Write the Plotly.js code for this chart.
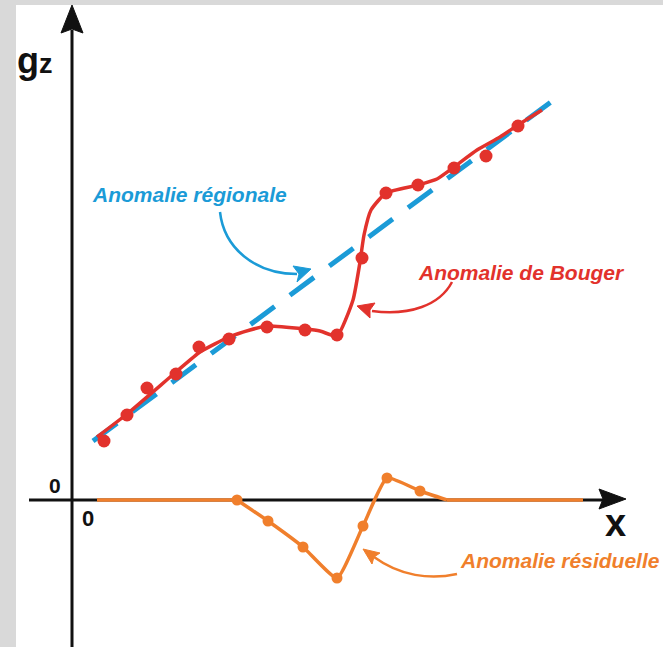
<!DOCTYPE html>
<html>
<head>
<meta charset="utf-8">
<script src="https://cdn.plot.ly/plotly-3.0.1.min.js"></script>
<style>html,body{margin:0;padding:0;background:#d9d9d9;}#chart{width:663px;height:647px;}</style>
</head>
<body>
<div id="chart"></div>
<script>
// Regional anomaly (straight trend)
const regionalX = [2.1, 48.7];
const regionalY = [5.9, 40.4];

// Bouguer anomaly: measured points
const bougerPtsX = [3.2, 5.5, 7.5, 10.4, 12.7, 15.7, 19.5, 23.3, 26.5, 29.0, 31.4, 34.6, 38.2, 41.4, 44.6];
const bougerPtsY = [5.9, 8.5, 11.2, 12.6, 15.3, 16.1, 17.3, 17.0, 16.5, 24.2, 30.7, 31.5, 33.2, 34.4, 37.4];

// Bouguer anomaly: smoothed curve
const bougerCurveX = [2.5, 5.5, 10.4, 12.8, 15.7, 17.8, 19.5, 23.3, 24.8, 26.5, 28.1, 28.8, 29.2, 29.9, 31.4, 34.6, 36.5, 38.2, 40.5, 42.8, 44.6, 47.0];
const bougerCurveY = [6.3, 8.6, 12.8, 14.8, 16.3, 17.0, 17.4, 17.1, 16.9, 16.4, 20.0, 23.8, 26.5, 29.0, 30.7, 31.5, 32.1, 33.3, 35.0, 36.3, 37.5, 39.0];

// Residual anomaly: measured points
const residPtsX = [16.5, 19.6, 23.1, 26.5, 29.1, 31.5, 34.8];
const residPtsY = [0.0, -2.1, -4.7, -7.8, -2.6, 2.2, 0.9];

// Residual anomaly: curve (flat baseline outside the anomaly)
const residCurveX = [2.5, 16.5, 19.6, 23.1, 26.5, 29.1, 31.5, 34.8, 37.5, 51.1];
const residCurveY = [0.0, 0.0, -2.1, -4.7, -7.8, -2.6, 2.2, 0.9, 0.0, 0.0];

// Labels
const labelRegional = 'Anomalie régionale';
const labelBouger = 'Anomalie de Bouger';
const labelResidual = 'Anomalie résiduelle';
const axisLabelY = 'g';
const axisLabelYSub = 'z';
const axisLabelX = 'x';
const tickZero = '0';

const BLUE = '#1b9bd7', RED = '#e2322c', ORANGE = '#f07f2c', BLACK = '#111111';
const FONT = 'Liberation Sans, Arial, Helvetica, sans-serif';

// pixel -> data helpers for decorations only
const X = px => (px - 72) / 10;
const Y = py => (500 - py) / 10;
const P = (px, py) => X(px).toFixed(2) + ',' + Y(py).toFixed(2);

const n = residCurveX.length;
const traces = [
  {x: regionalX, y: regionalY, mode: 'lines', line: {color: BLUE, width: 5, dash: '30px,19px'}, hoverinfo: 'skip'},
  {x: bougerCurveX, y: bougerCurveY, mode: 'lines', line: {color: RED, width: 3.5, shape: 'spline', smoothing: 0.5}, hoverinfo: 'skip'},
  {x: bougerPtsX, y: bougerPtsY, mode: 'markers', marker: {color: RED, size: 13}, hoverinfo: 'skip'},
  {x: residCurveX.slice(0, 2), y: residCurveY.slice(0, 2), mode: 'lines', line: {color: ORANGE, width: 3.5}, hoverinfo: 'skip'},
  {x: residCurveX.slice(1, n - 1), y: residCurveY.slice(1, n - 1), mode: 'lines', line: {color: ORANGE, width: 3.5, shape: 'spline', smoothing: 0.45}, hoverinfo: 'skip'},
  {x: residCurveX.slice(n - 2), y: residCurveY.slice(n - 2), mode: 'lines', line: {color: ORANGE, width: 3.5}, hoverinfo: 'skip'},
  {x: residPtsX, y: residPtsY, mode: 'markers', marker: {color: ORANGE, size: 11}, hoverinfo: 'skip'}
];

const shapes = [
  // white panel
  {type: 'rect', xref: 'paper', yref: 'paper', x0: 16/663, x1: 1, y0: 0, y1: 642/647, fillcolor: '#ffffff', line: {width: 0}, layer: 'below'},
  // y axis
  {type: 'line', xref: 'x', yref: 'y', x0: 0, x1: 0, y0: Y(647), y1: Y(30), line: {color: BLACK, width: 3}, layer: 'below'},
  {type: 'path', xref: 'x', yref: 'y', path: 'M' + P(72,5) + ' L' + P(61,33) + ' L' + P(72,29) + ' L' + P(83,33) + ' Z', fillcolor: BLACK, line: {color: BLACK, width: 1}, layer: 'below'},
  // x axis
  {type: 'line', xref: 'x', yref: 'y', x0: X(29), x1: X(604), y0: 0, y1: 0, line: {color: BLACK, width: 3}, layer: 'below'},
  {type: 'path', xref: 'x', yref: 'y', path: 'M' + P(626,499) + ' L' + P(599,489) + ' L' + P(603,499) + ' L' + P(599,509) + ' Z', fillcolor: BLACK, line: {color: BLACK, width: 1}, layer: 'below'},
  // callout: regional
  {type: 'path', xref: 'x', yref: 'y', path: 'M' + P(220,212) + ' C' + P(224,248) + ' ' + P(255,274) + ' ' + P(297,274), line: {color: BLUE, width: 2.5}},
  {type: 'path', xref: 'x', yref: 'y', path: 'M' + P(311,269) + ' L' + P(297,282) + ' L' + P(299,274) + ' L' + P(293,266) + ' Z', fillcolor: BLUE, line: {color: BLUE, width: 1}},
  // callout: Bouguer
  {type: 'path', xref: 'x', yref: 'y', path: 'M' + P(452,282) + ' C' + P(440,305) + ' ' + P(410,316) + ' ' + P(372,311), line: {color: RED, width: 2.5}},
  {type: 'path', xref: 'x', yref: 'y', path: 'M' + P(357,306) + ' L' + P(375,303) + ' L' + P(370,310) + ' L' + P(370,318) + ' Z', fillcolor: RED, line: {color: RED, width: 1}},
  // callout: residual
  {type: 'path', xref: 'x', yref: 'y', path: 'M' + P(457,574) + ' C' + P(430,580) + ' ' + P(400,576) + ' ' + P(374,557), line: {color: ORANGE, width: 2.5}},
  {type: 'path', xref: 'x', yref: 'y', path: 'M' + P(363,549) + ' L' + P(380,553) + ' L' + P(374,557) + ' L' + P(372,564) + ' Z', fillcolor: ORANGE, line: {color: ORANGE, width: 1}}
];

const txt = (text, x, y, color, size, xanchor) => ({
  text: text, x: x, y: y, xref: 'x', yref: 'y', showarrow: false,
  xanchor: xanchor || 'left', yanchor: 'middle',
  font: {family: FONT, size: size, color: color}
});

const annotations = [
  txt('<b><i>' + labelRegional + '</i></b>', X(90), Y(194), BLUE, 21),
  txt('<b><i>' + labelBouger + '</i></b>', X(416), Y(272), RED, 21),
  txt('<b><i>' + labelResidual + '</i></b>', X(458), Y(560), ORANGE, 21),
  txt('<b>' + axisLabelY + '<span style="font-size:27px">' + axisLabelYSub + '</span></b>', X(15), Y(60), BLACK, 36),
  txt('<b>' + axisLabelX + '</b>', X(615), Y(523), BLACK, 38, 'center'),
  txt('<b>' + tickZero + '</b>', X(55), Y(485), BLACK, 21, 'center'),
  txt('<b>' + tickZero + '</b>', X(88), Y(518), BLACK, 22, 'center')
];

const layout = {
  width: 663, height: 647,
  margin: {l: 0, r: 0, t: 0, b: 0, pad: 0},
  paper_bgcolor: '#d9d9d9', plot_bgcolor: 'rgba(0,0,0,0)',
  showlegend: false,
  xaxis: {range: [-7.2, 59.1], visible: false, fixedrange: true},
  yaxis: {range: [-14.7, 50.0], visible: false, fixedrange: true},
  shapes: shapes,
  annotations: annotations
};

Plotly.newPlot('chart', traces, layout, {staticPlot: true, displayModeBar: false});
</script>
</body>
</html>
